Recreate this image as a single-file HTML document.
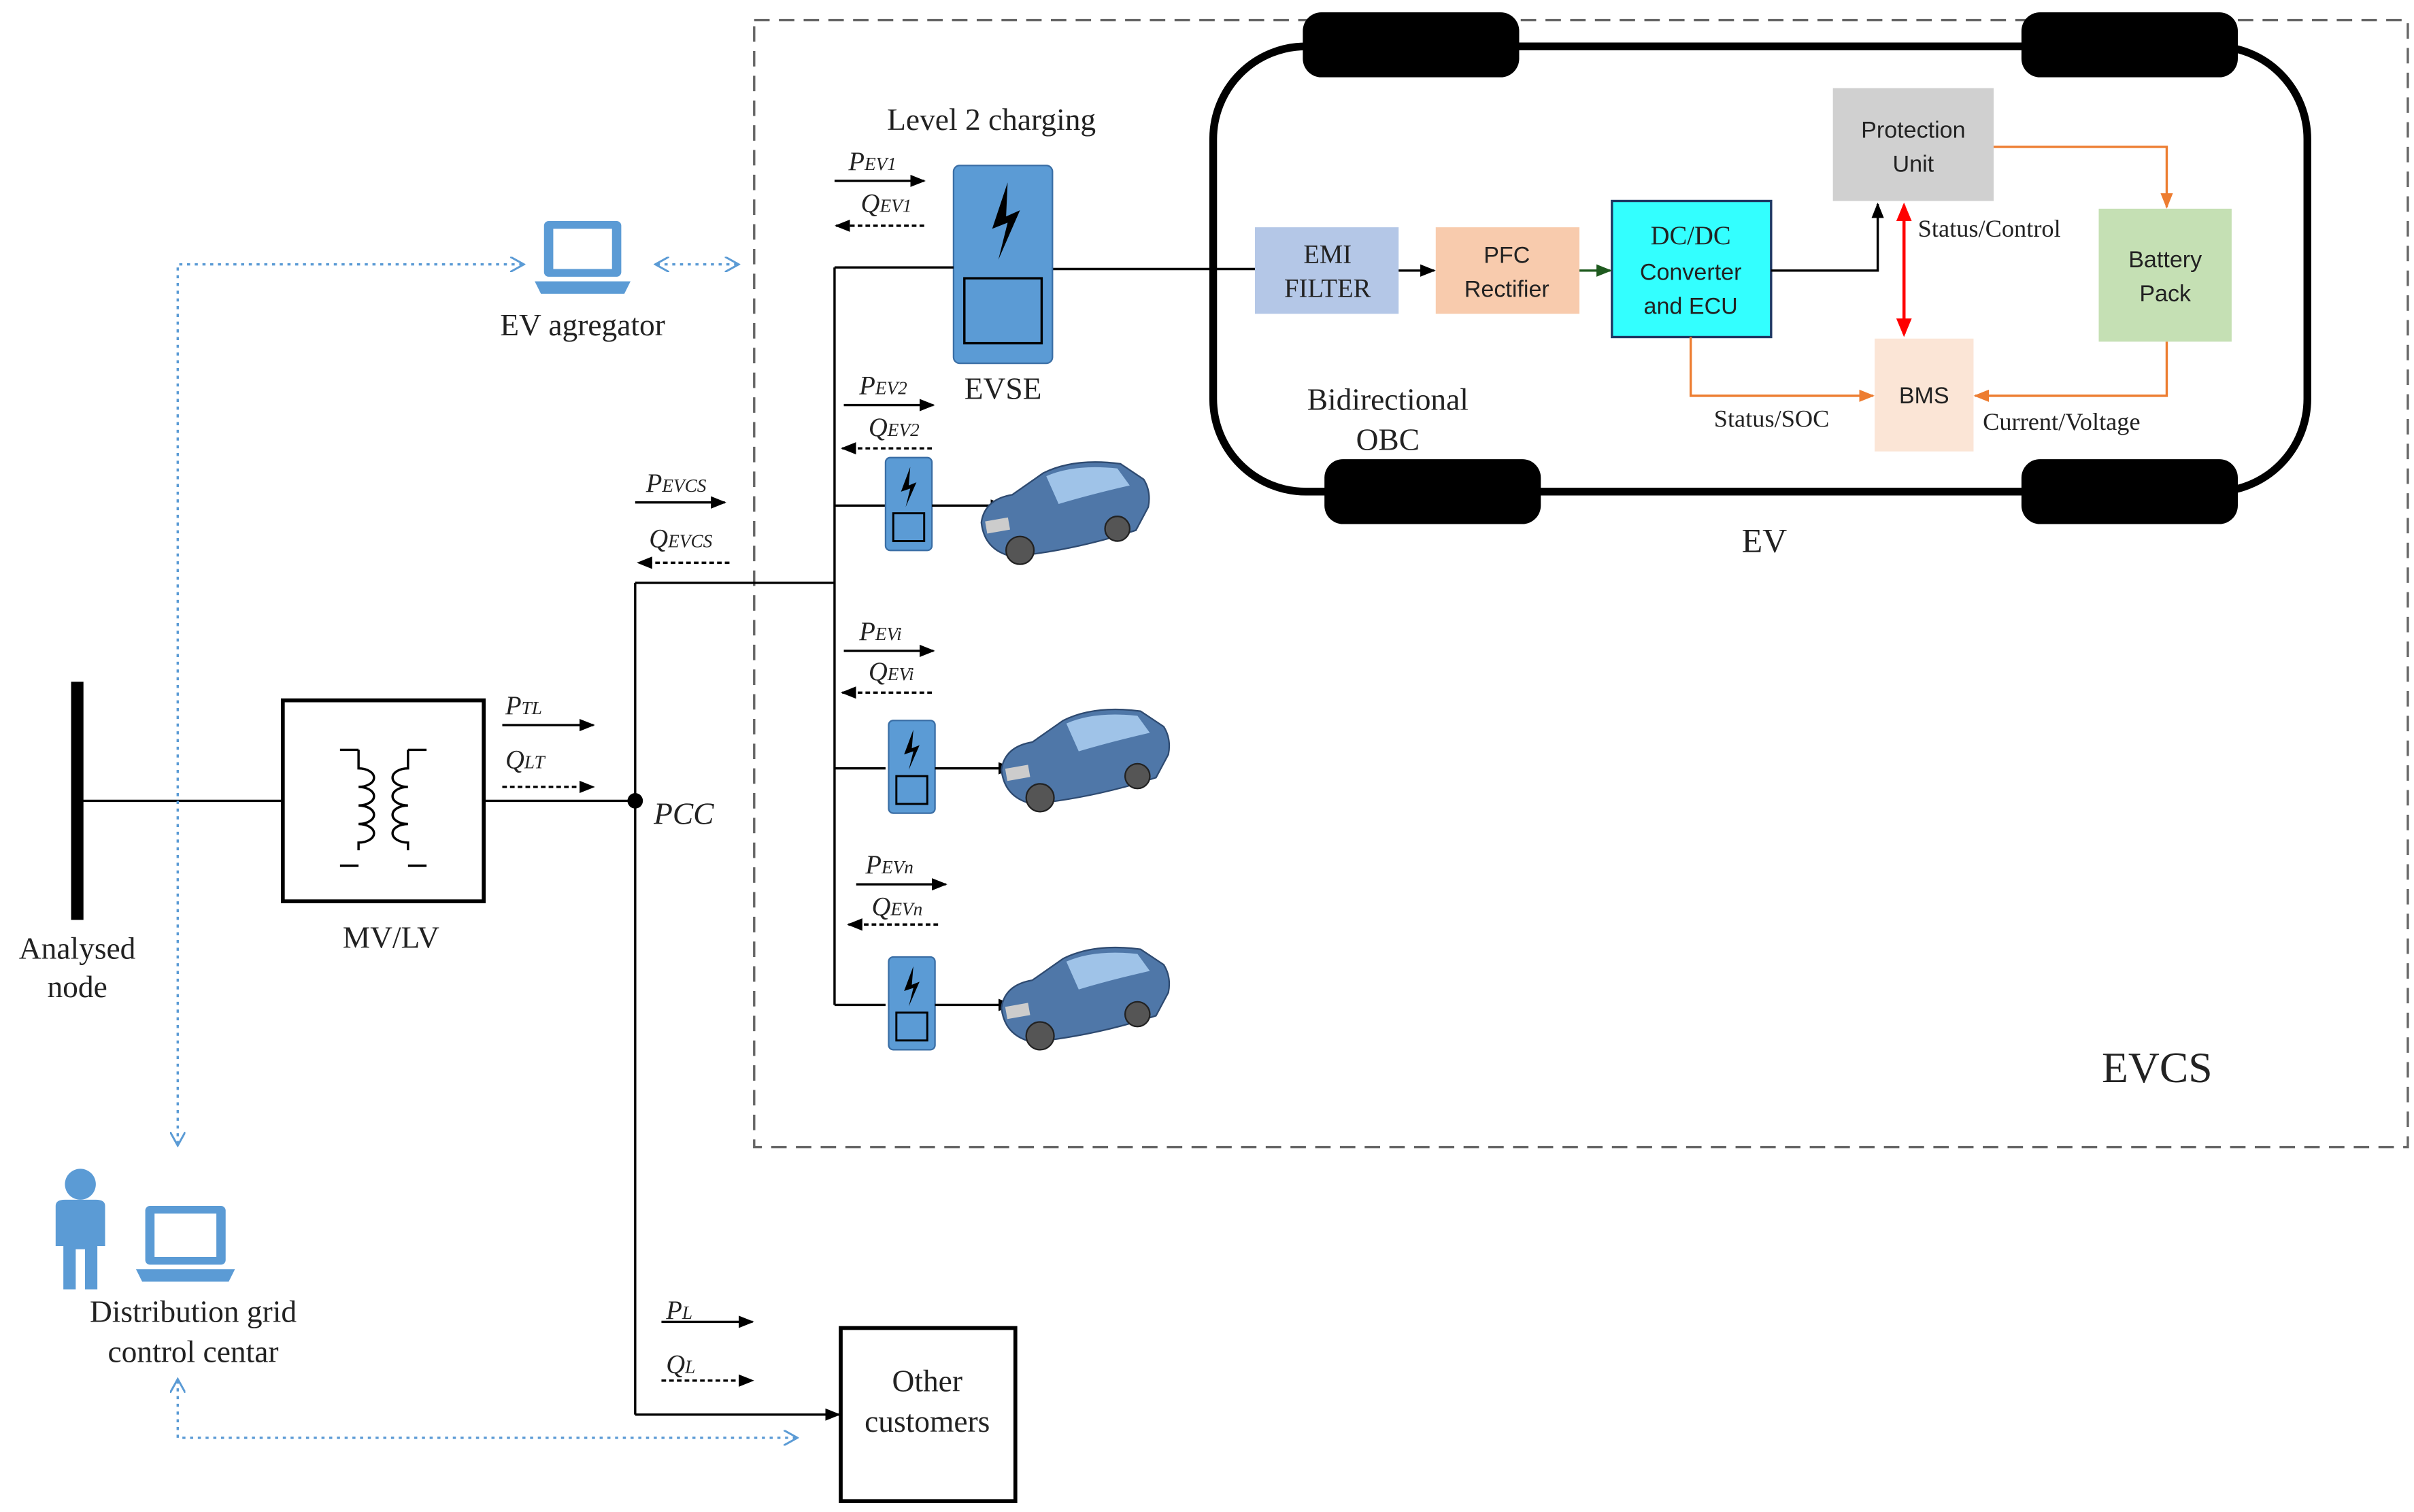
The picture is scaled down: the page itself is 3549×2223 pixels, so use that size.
<!DOCTYPE html>
<html><head><meta charset="utf-8"><style>
html,body{margin:0;padding:0;background:#fff}
svg{display:block}
text{font-family:"Liberation Serif",serif;fill:#222}
.s{font-family:"Liberation Sans",sans-serif}
</style></head><body>
<svg width="3549" height="2223" viewBox="0 0 1562 978" preserveAspectRatio="none" xmlns="http://www.w3.org/2000/svg">
<defs>
<marker id="a" markerWidth="10" markerHeight="10" refX="9" refY="5" orient="auto" markerUnits="userSpaceOnUse"><path d="M0,1 L10,5 L0,9z" fill="#000"/></marker>
<marker id="ao" markerWidth="10" markerHeight="10" refX="9" refY="5" orient="auto" markerUnits="userSpaceOnUse"><path d="M0,1 L10,5 L0,9z" fill="#ed7d31"/></marker>
<marker id="ar" markerWidth="12" markerHeight="12" refX="10" refY="6" orient="auto-start-reverse" markerUnits="userSpaceOnUse"><path d="M0,1 L12,6 L0,11z" fill="#f00"/></marker>
<marker id="ag" markerWidth="10" markerHeight="10" refX="9" refY="5" orient="auto" markerUnits="userSpaceOnUse"><path d="M0,1 L10,5 L0,9z" fill="#1e5a1e"/></marker>
<marker id="ab" markerWidth="10" markerHeight="10" refX="8" refY="5" orient="auto-start-reverse" markerUnits="userSpaceOnUse"><path d="M0,0 L9,5 L0,10" fill="none" stroke="#5b9bd5" stroke-width="1.3"/></marker>
<g id="car">
<path d="M0,40 Q2,25 20,22 L40,8 Q60,-2 90,2 L105,12 Q110,20 108,30 L100,45 Q60,58 20,62 Q2,58 0,40z" fill="#4f77a8" stroke="#2e4a70"/>
<path d="M42,10 Q60,2 88,5 L96,16 Q70,22 50,28 Z" fill="#9fc3e8"/>
<ellipse cx="25" cy="58" rx="9" ry="9" fill="#555" stroke="#222"/>
<ellipse cx="88" cy="44" rx="8" ry="8" fill="#555" stroke="#222"/>
<rect x="3" y="38" width="15" height="8" fill="#ccc" transform="rotate(-10 10 42)"/>
</g>
<g id="chg">
<rect x="0" y="0" width="30" height="60" rx="3" fill="#5b9bd5" stroke="#3a6ea5"/>
<path d="M16,6 L10,22 L16,20 L13,32 L20,16 L15,18 Z" fill="#000"/>
<rect x="5" y="36" width="20" height="18" fill="none" stroke="#000" stroke-width="1.3"/>
</g>
</defs>
<!-- EVCS dashed box -->
<rect x="488" y="13" width="1070" height="729" fill="none" stroke="#666" stroke-width="1.5" stroke-dasharray="10,6"/>
<text x="1360" y="700" font-size="28">EVCS</text>
<!-- EV body -->
<rect x="785" y="30" width="708" height="288" rx="60" fill="none" stroke="#000" stroke-width="5"/>
<rect x="843" y="8" width="140" height="42" rx="12" fill="#000"/>
<rect x="1308" y="8" width="140" height="42" rx="12" fill="#000"/>
<rect x="857" y="297" width="140" height="42" rx="12" fill="#000"/>
<rect x="1308" y="297" width="140" height="42" rx="12" fill="#000"/>
<text x="1127" y="357" font-size="22">EV</text>
<text x="898" y="265" font-size="20" text-anchor="middle">Bidirectional</text>
<text x="898" y="291" font-size="20" text-anchor="middle">OBC</text>
<!-- blocks -->
<rect x="812" y="147" width="93" height="56" fill="#b4c7e7"/>
<text x="859" y="170" font-size="17" text-anchor="middle">EMI</text>
<text x="859" y="192" font-size="17" text-anchor="middle">FILTER</text>
<rect x="929" y="147" width="93" height="56" fill="#f8cbad"/>
<text class="s" x="975" y="170" font-size="15" text-anchor="middle">PFC</text>
<text class="s" x="975" y="192" font-size="15" text-anchor="middle">Rectifier</text>
<rect x="1043" y="130" width="103" height="88" fill="#33ffff" stroke="#1f3864" stroke-width="1.5"/>
<text x="1094" y="158" font-size="17" text-anchor="middle">DC/DC</text>
<text class="s" x="1094" y="181" font-size="15" text-anchor="middle">Converter</text>
<text class="s" x="1094" y="203" font-size="15" text-anchor="middle">and ECU</text>
<rect x="1186" y="57" width="104" height="73" fill="#d0d0d0"/>
<text class="s" x="1238" y="89" font-size="15" text-anchor="middle">Protection</text>
<text class="s" x="1238" y="111" font-size="15" text-anchor="middle">Unit</text>
<rect x="1358" y="135" width="86" height="86" fill="#c5e0b4"/>
<text class="s" x="1401" y="173" font-size="15" text-anchor="middle">Battery</text>
<text class="s" x="1401" y="195" font-size="15" text-anchor="middle">Pack</text>
<rect x="1213" y="219" width="64" height="73" fill="#fbe5d6"/>
<text class="s" x="1245" y="261" font-size="15" text-anchor="middle">BMS</text>
<!-- block connectors -->
<line x1="681" y1="174" x2="812" y2="174" stroke="#000" stroke-width="1.5"/>
<line x1="905" y1="175" x2="928" y2="175" stroke="#000" stroke-width="1.5" marker-end="url(#a)"/>
<line x1="1022" y1="175" x2="1042" y2="175" stroke="#1e5a1e" stroke-width="1.5" marker-end="url(#ag)"/>
<polyline points="1146,175 1215,175 1215,132" fill="none" stroke="#000" stroke-width="1.5" marker-end="url(#a)"/>
<polyline points="1290,95 1402,95 1402,134" fill="none" stroke="#ed7d31" stroke-width="1.5" marker-end="url(#ao)"/>
<polyline points="1094,218 1094,256 1212,256" fill="none" stroke="#ed7d31" stroke-width="1.5" marker-end="url(#ao)"/>
<polyline points="1402,221 1402,256 1278,256" fill="none" stroke="#ed7d31" stroke-width="1.5" marker-end="url(#ao)"/>
<line x1="1232" y1="133" x2="1232" y2="216" stroke="#f00" stroke-width="2" marker-start="url(#ar)" marker-end="url(#ar)"/>
<text x="1241" y="153" font-size="16">Status/Control</text>
<text x="1109" y="276" font-size="16">Status/SOC</text>
<text x="1283" y="278" font-size="16">Current/Voltage</text>
<!-- EVSE -->
<text x="574" y="84" font-size="20">Level 2 charging</text>
<rect x="617" y="107" width="64" height="128" rx="4" fill="#5b9bd5" stroke="#3a6ea5"/>
<path d="M652,118 L642,148 L652,144 L646,168 L660,136 L651,140 Z" fill="#000"/>
<rect x="624" y="180" width="50" height="42" fill="none" stroke="#000" stroke-width="1.5"/>
<text x="624" y="258" font-size="20">EVSE</text>
<!-- main bus -->
<line x1="50" y1="441" x2="50" y2="595" stroke="#000" stroke-width="8"/>
<line x1="50" y1="518" x2="183" y2="518" stroke="#000" stroke-width="1.5"/>
<rect x="183" y="453" width="130" height="130" fill="none" stroke="#000" stroke-width="2.5"/>
<g fill="none" stroke="#000" stroke-width="1.5">
<path d="M220,485 L232,485 M232,485 v12 a10,6 0 1 1 0,12 a10,6 0 1 1 0,12 a10,6 0 1 1 0,12 a10,6 0 1 1 0,12 v5 M220,560 L232,560"/>
<path d="M276,485 L264,485 M264,485 v12 a10,6 0 1 0 0,12 a10,6 0 1 0 0,12 a10,6 0 1 0 0,12 a10,6 0 1 0 0,12 v5 M276,560 L264,560"/>
</g>
<line x1="313" y1="518" x2="411" y2="518" stroke="#000" stroke-width="1.5"/>
<circle cx="411" cy="518" r="5" fill="#000"/>
<text x="423" y="533" font-size="20" font-style="italic">PCC</text>
<text x="50" y="620" font-size="20" text-anchor="middle">Analysed</text>
<text x="50" y="645" font-size="20" text-anchor="middle">node</text>
<text x="253" y="613" font-size="20" text-anchor="middle">MV/LV</text>
<line x1="411" y1="377" x2="411" y2="915" stroke="#000" stroke-width="1.5"/>
<line x1="411" y1="915" x2="543" y2="915" stroke="#000" stroke-width="1.5" marker-end="url(#a)"/>
<line x1="411" y1="377" x2="540" y2="377" stroke="#000" stroke-width="1.5"/>
<line x1="540" y1="173" x2="540" y2="650" stroke="#000" stroke-width="1.5"/>
<line x1="540" y1="173" x2="617" y2="173" stroke="#000" stroke-width="1.5"/>
<line x1="540" y1="327" x2="573" y2="327" stroke="#000" stroke-width="1.5"/>
<line x1="540" y1="497" x2="573" y2="497" stroke="#000" stroke-width="1.5"/>
<line x1="540" y1="650" x2="573" y2="650" stroke="#000" stroke-width="1.5"/>
<use href="#chg" x="573" y="296"/>
<use href="#chg" x="575" y="466"/>
<use href="#chg" x="575" y="619"/>
<line x1="603" y1="327" x2="650" y2="327" stroke="#000" stroke-width="1.5" marker-end="url(#a)"/>
<line x1="605" y1="497" x2="655" y2="497" stroke="#000" stroke-width="1.5" marker-end="url(#a)"/>
<line x1="605" y1="650" x2="655" y2="650" stroke="#000" stroke-width="1.5" marker-end="url(#a)"/>
<use href="#car" x="635" y="298"/>
<use href="#car" x="648" y="458"/>
<use href="#car" x="648" y="612"/>
<!-- power labels -->
<g font-size="17" font-style="italic">
<text x="549" y="110">P<tspan font-size="12">EV1</tspan></text>
<text x="557" y="137">Q<tspan font-size="12">EV1</tspan></text>
<text x="556" y="255">P<tspan font-size="12">EV2</tspan></text>
<text x="562" y="282">Q<tspan font-size="12">EV2</tspan></text>
<text x="418" y="318">P<tspan font-size="12">EVCS</tspan></text>
<text x="420" y="354">Q<tspan font-size="12">EVCS</tspan></text>
<text x="556" y="414">P<tspan font-size="12">EVi</tspan></text>
<text x="562" y="440">Q<tspan font-size="12">EVi</tspan></text>
<text x="560" y="565">P<tspan font-size="12">EVn</tspan></text>
<text x="564" y="592">Q<tspan font-size="12">EVn</tspan></text>
<text x="327" y="462">P<tspan font-size="12">TL</tspan></text>
<text x="327" y="497">Q<tspan font-size="12">LT</tspan></text>
<text x="431" y="853">P<tspan font-size="12">L</tspan></text>
<text x="431" y="888">Q<tspan font-size="12">L</tspan></text>
</g>
<g stroke="#000" stroke-width="1.5">
<line x1="540" y1="117" x2="598" y2="117" marker-end="url(#a)"/>
<line x1="598" y1="146" x2="541" y2="146" stroke-dasharray="3,2" marker-end="url(#a)"/>
<line x1="546" y1="262" x2="604" y2="262" marker-end="url(#a)"/>
<line x1="603" y1="290" x2="545" y2="290" stroke-dasharray="3,2" marker-end="url(#a)"/>
<line x1="411" y1="325" x2="469" y2="325" marker-end="url(#a)"/>
<line x1="472" y1="364" x2="413" y2="364" stroke-dasharray="3,2" marker-end="url(#a)"/>
<line x1="546" y1="421" x2="604" y2="421" marker-end="url(#a)"/>
<line x1="603" y1="448" x2="545" y2="448" stroke-dasharray="3,2" marker-end="url(#a)"/>
<line x1="554" y1="572" x2="612" y2="572" marker-end="url(#a)"/>
<line x1="607" y1="598" x2="549" y2="598" stroke-dasharray="3,2" marker-end="url(#a)"/>
<line x1="325" y1="469" x2="384" y2="469" marker-end="url(#a)"/>
<line x1="325" y1="509" x2="384" y2="509" stroke-dasharray="3,2" marker-end="url(#a)"/>
<line x1="428" y1="855" x2="487" y2="855" marker-end="url(#a)"/>
<line x1="428" y1="893" x2="487" y2="893" stroke-dasharray="3,2" marker-end="url(#a)"/>
</g>
<!-- other customers -->
<rect x="544" y="859" width="113" height="112" fill="none" stroke="#000" stroke-width="2.5"/>
<text x="600" y="900" font-size="20" text-anchor="middle">Other</text>
<text x="600" y="926" font-size="20" text-anchor="middle">customers</text>
<!-- communication -->
<g stroke="#5b9bd5" stroke-width="1.5" stroke-dasharray="2,3" fill="none">
<polyline points="338,171 115,171 115,740" marker-start="url(#ab)" marker-end="url(#ab)"/>
<line x1="425" y1="171" x2="477" y2="171" marker-start="url(#ab)" marker-end="url(#ab)"/>
<polyline points="115,893 115,930 515,930" marker-start="url(#ab)" marker-end="url(#ab)"/>
</g>
<!-- laptops / person -->
<g fill="#5b9bd5">
<rect x="352" y="143" width="50" height="36" rx="3"/>
<rect x="358" y="148" width="38" height="26" fill="#fff"/>
<path d="M346,182 L408,182 L404,190 L350,190 Z"/>
<rect x="94" y="780" width="52" height="38" rx="3"/>
<rect x="100" y="785" width="40" height="28" fill="#fff"/>
<path d="M88,821 L152,821 L148,829 L92,829 Z"/>
<circle cx="52" cy="766" r="10"/>
<path d="M36,780 Q36,776 42,776 L62,776 Q68,776 68,780 L68,806 L63,806 L63,834 L55,834 L55,808 L49,808 L49,834 L41,834 L41,806 L36,806 Z"/>
</g>
<text x="377" y="217" font-size="20" text-anchor="middle">EV agregator</text>
<text x="125" y="855" font-size="20" text-anchor="middle">Distribution grid</text>
<text x="125" y="881" font-size="20" text-anchor="middle">control centar</text>
</svg>
</body></html>
